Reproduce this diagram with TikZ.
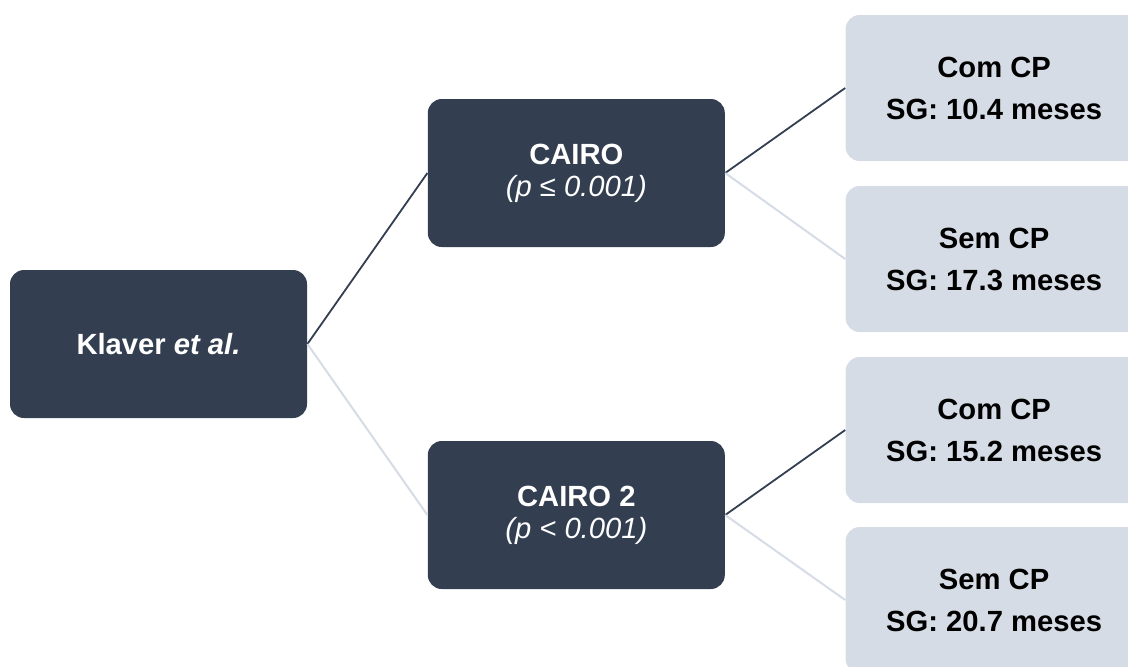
\documentclass[tikz,border=0pt]{standalone}
\usepackage{fontspec}
\setmainfont{Liberation Sans}
\usepackage{xcolor}
\usepackage{tikz}
\usetikzlibrary{positioning}

\definecolor{slate}{HTML}{333F50}
\definecolor{mist}{HTML}{D6DCE5}

\begin{document}
\begin{tikzpicture}[
    x=0.5pt, y=0.5pt,
    study/.style={rectangle, fill=slate, text=white, minimum width=148.5pt, minimum height=74pt, rounded corners=7pt, align=center, font=\fontsize{14.6}{16}\selectfont},
    result/.style={rectangle, fill=mist, text=black, minimum width=148.5pt, minimum height=73pt, rounded corners=7pt, align=center, font=\fontsize{14.6}{21}\selectfont\bfseries},
    strong/.style={draw=slate, line width=0.9pt},
    faint/.style={draw=mist, line width=1pt}
]
    \useasboundingbox (0,0) rectangle (1128,-666);

    % Root
    \node[study] (klaver) at (158.5,-344) {\bfseries Klaver \itshape et al.};

    % Trials
    \node[study, right=60pt of klaver, yshift=85.5pt] (cairo) {\bfseries CAIRO\\\itshape (p ≤ 0.001)};
    \node[study, right=60pt of klaver, yshift=-85.5pt] (cairotwo) {\bfseries CAIRO 2\\\itshape (p < 0.001)};

    % Survival results
    \node[result, right=60pt of cairo, yshift=42.5pt] (cairocom) {Com CP\\SG: 10.4 meses};
    \node[result, right=60pt of cairo, yshift=-43pt] (cairosem) {Sem CP\\SG: 17.3 meses};
    \node[result, right=60pt of cairotwo, yshift=42.5pt] (twocom) {Com CP\\SG: 15.2 meses};
    \node[result, right=60pt of cairotwo, yshift=-42.5pt] (twosem) {Sem CP\\SG: 20.7 meses};

    % Connectors
    \draw[strong] (klaver.east) -- (cairo.west);
    \draw[faint] (klaver.east) -- (cairotwo.west);
    \draw[strong] (cairo.east) -- (cairocom.west);
    \draw[faint] (cairo.east) -- (cairosem.west);
    \draw[strong] (cairotwo.east) -- (twocom.west);
    \draw[faint] (cairotwo.east) -- (twosem.west);
\end{tikzpicture}
\end{document}
